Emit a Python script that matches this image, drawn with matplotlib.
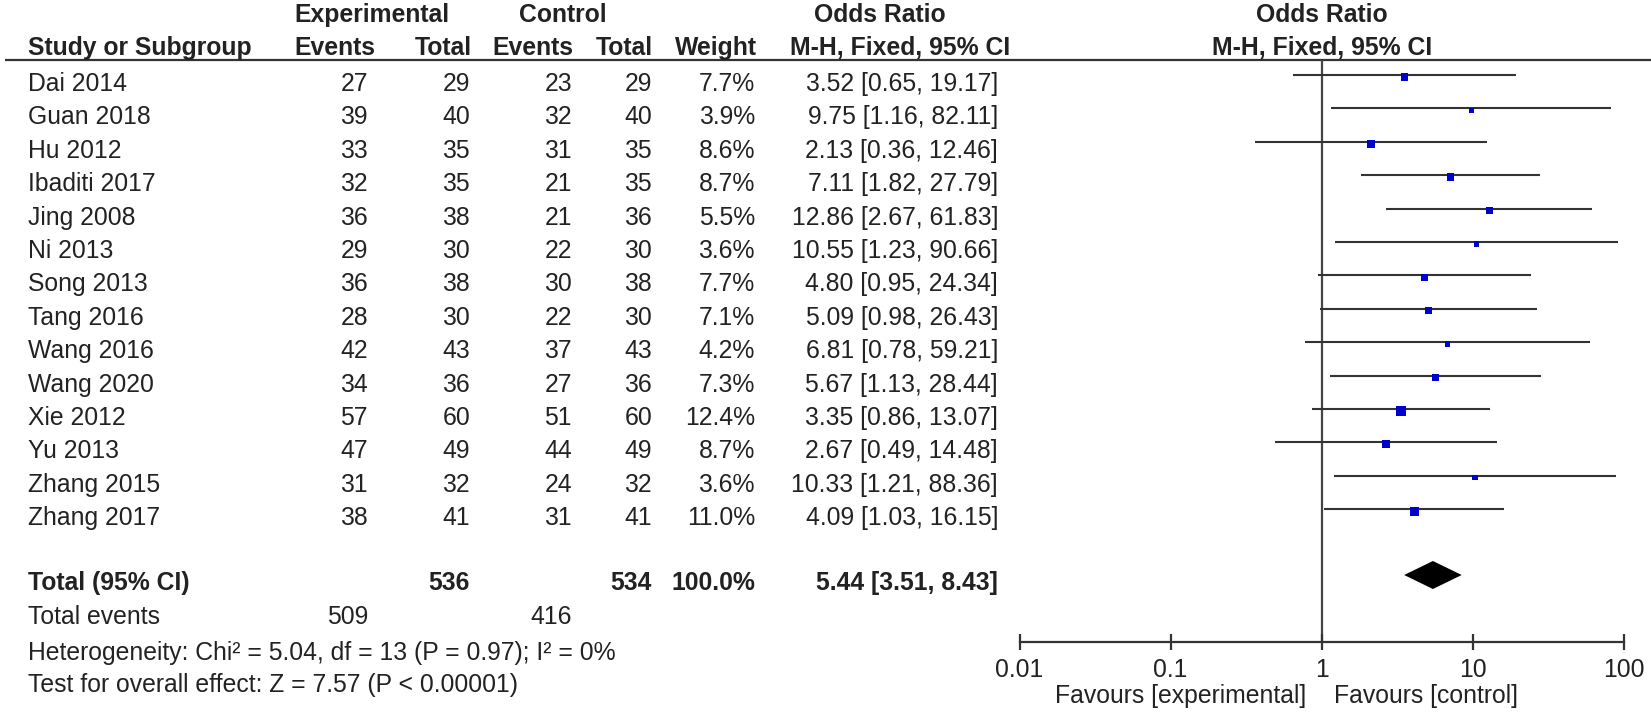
import numpy as np
import matplotlib
matplotlib.use("Agg")
import matplotlib.pyplot as plt
from matplotlib.ticker import NullLocator

# study-level data
studies = ["Dai 2014", "Guan 2018", "Hu 2012", "Ibaditi 2017", "Jing 2008", "Ni 2013",
           "Song 2013", "Tang 2016", "Wang 2016", "Wang 2020", "Xie 2012", "Yu 2013",
           "Zhang 2015", "Zhang 2017"]
exp_events = [27, 39, 33, 32, 36, 29, 36, 28, 42, 34, 57, 47, 31, 38]
exp_total = [29, 40, 35, 35, 38, 30, 38, 30, 43, 36, 60, 49, 32, 41]
ctrl_events = [23, 32, 31, 21, 21, 22, 30, 22, 37, 27, 51, 44, 24, 31]
ctrl_total = [29, 40, 35, 35, 36, 30, 38, 30, 43, 36, 60, 49, 32, 41]
weights = [7.7, 3.9, 8.6, 8.7, 5.5, 3.6, 7.7, 7.1, 4.2, 7.3, 12.4, 8.7, 3.6, 11.0]
odds = [3.52, 9.75, 2.13, 7.11, 12.86, 10.55, 4.80, 5.09, 6.81, 5.67, 3.35, 2.67, 10.33, 4.09]
ci_lo = [0.65, 1.16, 0.36, 1.82, 2.67, 1.23, 0.95, 0.98, 0.78, 1.13, 0.86, 0.49, 1.21, 1.03]
ci_hi = [19.17, 82.11, 12.46, 27.79, 61.83, 90.66, 24.34, 26.43, 59.21, 28.44, 13.07, 14.48, 88.36, 16.15]

# pooled result
total_exp, total_ctrl = 536, 534
total_weight = 100.0
pooled_or, pooled_lo, pooled_hi = 5.44, 3.51, 8.43
events_exp, events_ctrl = 509, 416
heterogeneity = "Heterogeneity: Chi² = 5.04, df = 13 (P = 0.97); I² = 0%"
overall = "Test for overall effect: Z = 7.57 (P < 0.00001)"

tick_vals = [0.01, 0.1, 1, 10, 100]
tick_labels = ["0.01", "0.1", "1", "10", "100"]

W, H = 1651, 716
FS = 17.8
TXT = "#222222"
LINE = "#333333"
plt.rcParams["font.family"] = ["Liberation Sans", "DejaVu Sans"]

fig = plt.figure(figsize=(W / 100, H / 100), dpi=100)
ax = fig.add_axes([0, 0, 1, 1])
ax.set_xlim(0, W)
ax.set_ylim(H, 0)
ax.axis("off")

# forest panel: log x from 0.01 to 100, y in pixel rows
x0, x1 = 1019.5, 1624
fx = fig.add_axes([x0 / W, 0, (x1 - x0) / W, 1])
fx.set_xscale("log")
fx.set_xlim(0.01, 100)
fx.set_ylim(H, 0)
fx.patch.set_alpha(0)
for s in ["top", "left", "right"]:
    fx.spines[s].set_visible(False)

row0, step = 75, 33.4
rows = row0 + step * np.arange(len(studies))
y_total = 575
axis_y = 642
header_y = 60

# table header
hdr = dict(fontsize=FS, fontweight="bold", color=TXT, va="baseline")
ax.text(372, 22, "Experimental", ha="center", **hdr)
ax.text(563, 22, "Control", ha="center", **hdr)
ax.text(880, 22, "Odds Ratio", ha="center", **hdr)
ax.text(28, 55, "Study or Subgroup", ha="left", **hdr)
col_right = [375, 472, 573, 653, 757, 1010]
for x, lab in zip(col_right, ["Events", "Total", "Events", "Total", "Weight", "M-H, Fixed, 95% CI"]):
    ax.text(x, 55, lab, ha="right", **hdr)
fx.text(1, 22, "Odds Ratio", ha="center", **hdr)
fx.text(1, 55, "M-H, Fixed, 95% CI", ha="center", **hdr)
ax.hlines(header_y, 5, W, color=LINE, lw=1.6)

# study rows
num_x = [368, 470, 572, 652, 755, 998]
body = dict(fontsize=FS, color=TXT, va="baseline")
for i, y in enumerate(rows):
    yb = y + 16
    ax.text(28, yb, studies[i], ha="left", **body)
    vals = [str(exp_events[i]), str(exp_total[i]), str(ctrl_events[i]), str(ctrl_total[i]),
            f"{weights[i]:.1f}%", f"{odds[i]:.2f} [{ci_lo[i]:.2f}, {ci_hi[i]:.2f}]"]
    for x, v in zip(num_x, vals):
        ax.text(x, yb, v, ha="right", **body)

# total rows
bold = dict(fontsize=FS, color=TXT, va="baseline", fontweight="bold")
yb = y_total + 15
ax.text(28, yb, "Total (95% CI)", ha="left", **bold)
ax.text(num_x[1], yb, str(total_exp), ha="right", **bold)
ax.text(num_x[3], yb, str(total_ctrl), ha="right", **bold)
ax.text(num_x[4], yb, f"{total_weight:.1f}%", ha="right", **bold)
ax.text(num_x[5], yb, f"{pooled_or:.2f} [{pooled_lo:.2f}, {pooled_hi:.2f}]", ha="right", **bold)
ax.text(28, 624, "Total events", ha="left", **body)
ax.text(num_x[0], 624, str(events_exp), ha="right", **body)
ax.text(num_x[2], 624, str(events_ctrl), ha="right", **body)
ax.text(28, 660, heterogeneity, ha="left", **body)
ax.text(28, 692, overall, ha="left", **body)

# forest marks
fx.vlines(1, header_y, axis_y, color="#444444", lw=1.6, zorder=1)
fx.hlines(rows, ci_lo, ci_hi, color=LINE, lw=1.5, zorder=2)
side_px = 2.7 * np.sqrt(np.array(weights))
fx.scatter(odds, rows + 2, marker="s", s=(side_px * 0.72) ** 2, color="#0000cc",
           linewidths=0, zorder=3)
fx.fill([pooled_lo, pooled_or, pooled_hi, pooled_or],
        [y_total, y_total - 14, y_total, y_total + 14], color="black", lw=0, zorder=3)

# log axis
fx.spines["bottom"].set_position(("data", axis_y))
fx.spines["bottom"].set_color(LINE)
fx.spines["bottom"].set_linewidth(1.6)
fx.set_xticks(tick_vals, labels=tick_labels)
fx.xaxis.set_minor_locator(NullLocator())
fx.tick_params(axis="x", direction="inout", length=11.5, width=1.6, color=LINE,
               labelsize=FS, labelcolor=TXT, pad=5.5)
fx.set_yticks([])

ax.text(1306, 703, "Favours [experimental]", ha="right", **body)
ax.text(1334, 703, "Favours [control]", ha="left", **body)

fig.savefig("out.png", dpi=100)
